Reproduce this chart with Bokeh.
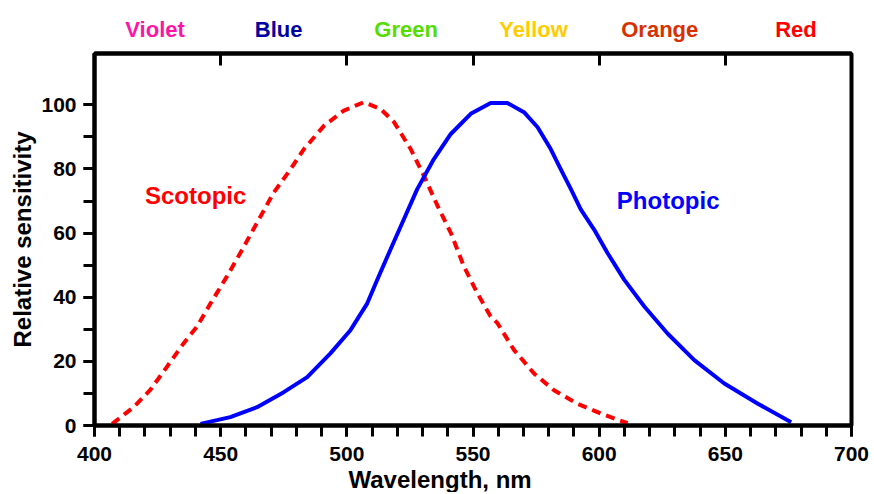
from bokeh.plotting import figure
from bokeh.layouts import column
from bokeh.models import LinearAxis, FixedTicker, Range1d, Title, ColumnDataSource
from bokeh.core.properties import value
from bokeh.embed import file_html
from bokeh.resources import INLINE

# ---- data ----
scotopic_nm = [407, 415.5, 422, 428.7, 435.3, 440.6, 446, 452.5, 457.8, 464.4, 471, 477.7,
               483, 491, 498.8, 506.7, 513.4, 518.7, 525.3, 530.6, 536, 541.2, 546.4,
               551.7, 557, 559.7, 566.3, 574.2, 582.1, 591.4, 600.7, 611.3]
scotopic_val = [0.5, 5.7, 11, 18.3, 25.6, 30.8, 38.1, 46.5, 53.8, 63.2, 72.6, 79.9,
                86.2, 93.5, 98.2, 100.8, 98.7, 94.6, 86.2, 77.8, 68.4, 60.1, 49.6,
                41.3, 34, 31.9, 23.5, 16.2, 11, 6.8, 3.7, 0.7]

photopic_nm = [442, 453.8, 464.4, 475, 484.3, 493.5, 501.5, 508.1, 512.1, 517.3, 522.6, 527.9,
               534.5, 541.2, 549.1, 557, 563.6, 570.2, 575.6, 580.8, 584.8, 588.8, 592.7,
               598, 603.3, 609.9, 617.9, 627.1, 637.7, 649.6, 662.9, 676.1]
photopic_val = [0.5, 2.6, 5.7, 10.4, 15.1, 22.5, 29.8, 38.1, 45.5, 54.9, 64.3, 73.7,
                83.1, 90.9, 97.2, 100.6, 100.6, 97.7, 93, 86.2, 79.9, 73.7, 67.4,
                61.1, 53.8, 45.5, 37.1, 28.7, 20.4, 13.1, 6.8, 1]

x_major_ticks = [400, 450, 500, 550, 600, 650, 700]
x_minor_ticks = list(range(400, 701, 10))
y_major_ticks = [0, 20, 40, 60, 80, 100]
y_minor_ticks = list(range(0, 101, 10))
top_ticks = [450, 500, 550, 600, 650]

band_names = ["Violet", "Blue", "Green", "Yellow", "Orange", "Red"]
band_centers = [424, 473, 523.5, 574, 624, 678]
band_colors = ["#FF14A8", "#0000A0", "#55DD00", "#FFCC00", "#D83000", "#FF0000"]

curve_names = ["Scotopic", "Photopic"]
curve_label_x = [420, 607]
curve_label_y = [71.7, 70.3]
curve_colors = ["#FF0000", "#0000FF"]

FONT = "Liberation Sans"
W = 874
LEFT, RIGHT = 94, 23
TOP_H = 46

# ---- band-name strip above the chart (shares the x scale) ----
x_range = Range1d(400, 700)
strip = figure(width=W, height=TOP_H, output_backend="svg", toolbar_location=None,
               x_range=x_range, y_range=Range1d(0, TOP_H),
               min_border_left=LEFT, min_border_right=RIGHT, min_border_top=0,
               min_border_bottom=0, x_axis_location=None, y_axis_location=None)
strip.grid.visible = False
strip.outline_line_color = None
band_src = ColumnDataSource(dict(x=band_centers, y=[TOP_H - 29] * len(band_names),
                                 text=band_names, color=band_colors))
strip.text(x="x", y="y", text="text", text_color="color", source=band_src,
           text_font=value(FONT), text_font_style="bold", text_font_size="22px",
           text_align="center", text_baseline="middle")

# ---- main chart ----
p = figure(width=W, height=446, output_backend="svg", toolbar_location=None,
           x_range=x_range, y_range=Range1d(0, 116),
           min_border_left=LEFT, min_border_right=RIGHT, min_border_top=7,
           min_border_bottom=66,
           background_fill_color="white", border_fill_color="white")
p.grid.visible = False
p.outline_line_color = "black"
p.outline_line_width = 4

p.line(scotopic_nm, scotopic_val, line_color="#FF0000", line_width=4, line_dash="9 6",
       line_join="round")
p.line(photopic_nm, photopic_val, line_color="#0000FF", line_width=4, line_join="round")

lab_src = ColumnDataSource(dict(x=curve_label_x, y=curve_label_y, text=curve_names,
                                color=curve_colors))
p.text(x="x", y="y", text="text", text_color="color", source=lab_src,
       text_font=value(FONT), text_font_style="bold", text_font_size="24px",
       text_align="left", text_baseline="middle")

for ax, major, minor in ((p.xaxis[0], x_major_ticks, x_minor_ticks),
                         (p.yaxis[0], y_major_ticks, y_minor_ticks)):
    ax.ticker = FixedTicker(ticks=major, minor_ticks=minor)
    ax.axis_line_width = 4
    ax.axis_line_color = "black"
    ax.major_tick_in = 0
    ax.major_tick_out = 11
    ax.minor_tick_in = 0
    ax.minor_tick_out = 11
    ax.major_tick_line_width = 3
    ax.minor_tick_line_width = 3
    ax.major_tick_line_color = "black"
    ax.minor_tick_line_color = "black"
    ax.major_label_text_font = FONT
    ax.major_label_text_font_style = "bold"
    ax.major_label_text_font_size = "21px"
    ax.major_label_text_color = "black"
    ax.major_label_standoff = 7
p.xaxis[0].major_label_standoff = 10

p.yaxis[0].axis_label = "Relative sensitivity"
p.yaxis[0].axis_label_text_font = FONT
p.yaxis[0].axis_label_text_font_style = "bold"
p.yaxis[0].axis_label_text_font_size = "24px"
p.yaxis[0].axis_label_text_color = "black"
p.yaxis[0].axis_label_standoff = 2

top = LinearAxis(ticker=FixedTicker(ticks=top_ticks, minor_ticks=[]),
                 axis_line_width=4, axis_line_color="black",
                 major_tick_in=12, major_tick_out=0, major_tick_line_width=3,
                 major_tick_line_color="black", minor_tick_line_color=None,
                 major_label_text_color=None, major_label_text_font_size="1px",
                 major_label_standoff=0)
p.add_layout(top, "above")

p.add_layout(Title(text="Wavelength, nm", align="left", offset=254,
                   text_font=FONT, text_font_style="bold", text_font_size="24px",
                   text_color="black", standoff=0), "below")

layout = column(strip, p, spacing=0)
open("out.html", "w").write(file_html(layout, INLINE))
